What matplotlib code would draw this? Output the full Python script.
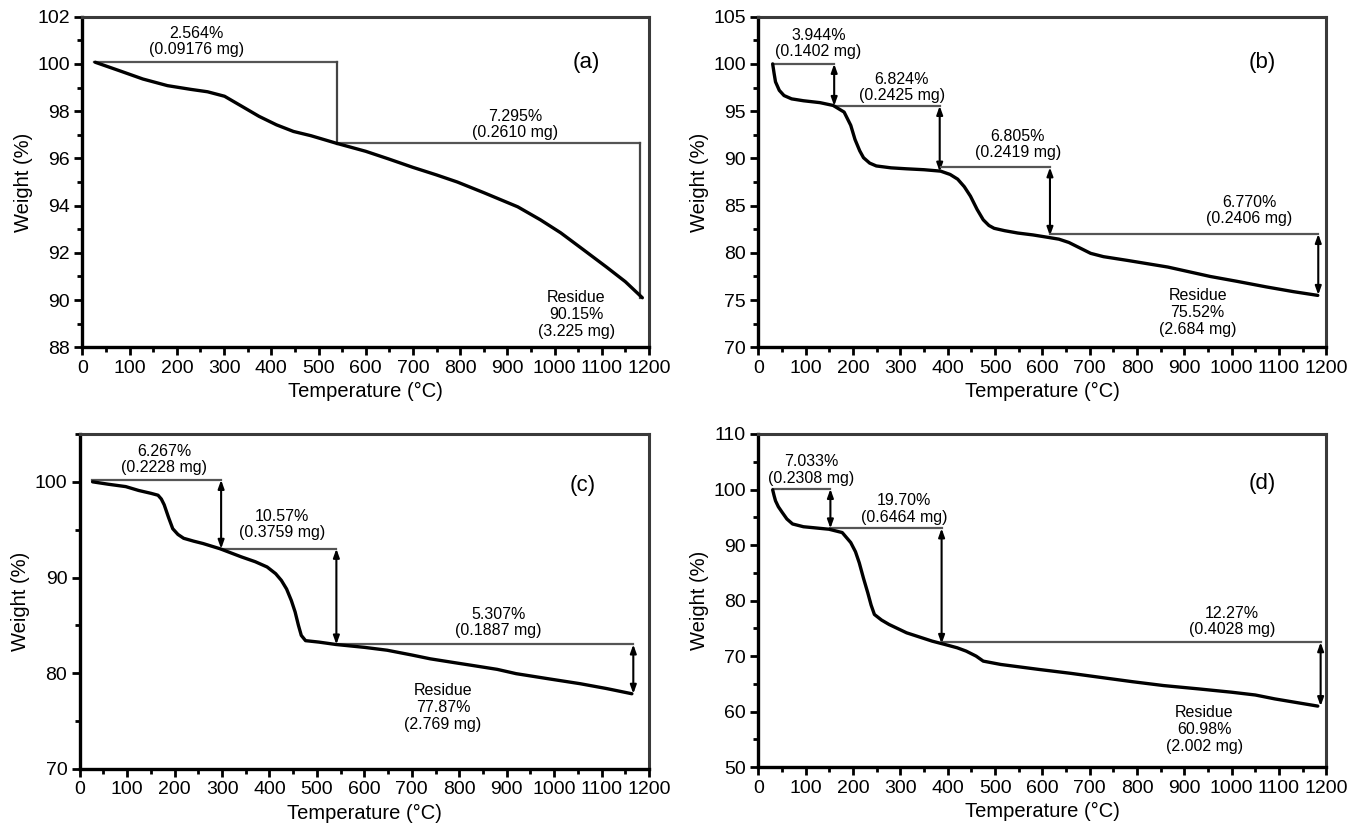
import matplotlib
matplotlib.use('Agg')
import matplotlib.pyplot as plt
from matplotlib.ticker import MultipleLocator

plt.rcParams['font.family'] = ['Liberation Sans', 'DejaVu Sans']

# ---- data (temperature in C, weight in %) ----
a_temp = [27, 80, 128, 180, 230, 265, 301, 338, 374, 411, 447, 484, 538, 600, 648, 700, 750,
          794, 850, 922, 970, 1013, 1060, 1110, 1150, 1186]
a_weight = [100.07, 99.7, 99.36, 99.08, 98.92, 98.82, 98.63, 98.2, 97.78, 97.42, 97.14, 96.96,
            96.64, 96.3, 95.98, 95.62, 95.3, 95.0, 94.55, 93.95, 93.4, 92.85, 92.15, 91.4,
            90.78, 90.1]

b_temp = [30, 33, 36, 44, 54, 70, 95, 130, 158, 181, 195, 204, 214, 222, 235, 249, 280, 312,
          350, 385, 405, 421, 435, 448, 462, 475, 487, 498, 520, 548, 580, 611, 635, 656, 680,
          702, 729, 780, 865, 910, 955, 1010, 1073, 1130, 1182]
b_weight = [100.0, 99.0, 98.1, 97.2, 96.65, 96.3, 96.1, 95.9, 95.6, 94.9, 93.5, 92.0, 90.8,
            90.07, 89.5, 89.2, 89.0, 88.9, 88.8, 88.65, 88.3, 87.8, 87.0, 86.0, 84.6, 83.5,
            82.9, 82.6, 82.35, 82.1, 81.9, 81.65, 81.45, 81.1, 80.5, 79.95, 79.6, 79.2, 78.5,
            78.0, 77.5, 77.0, 76.4, 75.9, 75.5]

c_temp = [27, 60, 97, 124, 150, 165, 172, 178, 187, 196, 207, 219, 240, 260, 296, 341, 370,
          395, 413, 425, 436, 446, 454, 461, 467, 476, 504, 540, 600, 648, 700, 739, 790, 829,
          880, 920, 990, 1055, 1110, 1164]
c_weight = [100.0, 99.75, 99.5, 99.1, 98.8, 98.6, 98.2, 97.6, 96.3, 95.1, 94.5, 94.1, 93.8,
            93.55, 93.0, 92.15, 91.65, 91.1, 90.4, 89.7, 88.8, 87.6, 86.4, 85.0, 83.95, 83.4,
            83.25, 83.0, 82.7, 82.4, 81.9, 81.5, 81.1, 80.8, 80.4, 79.95, 79.4, 78.9, 78.4, 77.85]

d_temp = [30, 33, 36, 42, 50, 60, 72, 95, 149, 177, 195, 205, 213, 222, 231, 238, 245, 260,
          276, 313, 367, 394, 420, 439, 460, 475, 512, 593, 660, 729, 790, 856, 930, 1000,
          1050, 1091, 1140, 1182]
d_weight = [99.95, 98.9, 97.97, 96.9, 95.9, 94.7, 93.8, 93.3, 92.85, 92.25, 90.45, 88.8, 86.8,
            84.0, 81.4, 79.2, 77.5, 76.5, 75.7, 74.2, 72.7, 72.1, 71.5, 70.9, 70.0, 69.1, 68.5,
            67.6, 66.9, 66.1, 65.4, 64.7, 64.1, 63.5, 63.0, 62.3, 61.6, 61.0]

# weight-loss steps: (T start, T end, weight before, weight after)
a_steps = [(25, 540, 100.1, 96.6), (540, 1180, 96.65, 90.1)]
b_steps = [(30, 160, 100.0, 95.55), (160, 383, 95.55, 88.6), (385, 616, 89.05, 81.8),
           (616, 1183, 82.0, 75.55)]
c_steps = [(25, 298, 100.2, 93.0), (298, 541, 93.0, 83.0), (541, 1167, 83.0, 77.85)]
d_steps = [(30, 152, 100.1, 93.0), (152, 387, 93.0, 72.2), (387, 1188, 72.5, 61.0)]

a_loss = ['2.564%\n(0.09176 mg)', '7.295%\n(0.2610 mg)']
b_loss = ['3.944%\n(0.1402 mg)', '6.824%\n(0.2425 mg)', '6.805%\n(0.2419 mg)',
          '6.770%\n(0.2406 mg)']
c_loss = ['6.267%\n(0.2228 mg)', '10.57%\n(0.3759 mg)', '5.307%\n(0.1887 mg)']
d_loss = ['7.033%\n(0.2308 mg)', '19.70%\n(0.6464 mg)', '12.27%\n(0.4028 mg)']

residues = ['Residue\n90.15%\n(3.225 mg)', 'Residue\n75.52%\n(2.684 mg)',
            'Residue\n77.87%\n(2.769 mg)', 'Residue\n60.98%\n(2.002 mg)']
panel_tags = ['(a)', '(b)', '(c)', '(d)']

# label positions (data coords) for each panel
a_label_pos = [(242, 100.95), (917, 97.45)]
b_label_pos = [(127, 102.2), (303, 97.5), (548, 91.45), (1037, 84.5)]
c_label_pos = [(178, 102.35), (427, 95.55), (883, 85.3)]
d_label_pos = [(111, 103.5), (308, 96.5), (1001, 76.3)]
residue_pos = [(1046, 89.4), (928, 73.7), (766, 76.4), (942, 56.75)]
tag_pos = [(1068, 100.05), (1064, 100.2), (1060, 99.65), (1064, 101.0)]

panels = [
    dict(t=a_temp, w=a_weight, steps=a_steps, loss=a_loss, lpos=a_label_pos,
         ylim=(88, 102), major=2, minor=1, arrows=False),
    dict(t=b_temp, w=b_weight, steps=b_steps, loss=b_loss, lpos=b_label_pos,
         ylim=(70, 105), major=5, minor=2.5, arrows=True),
    dict(t=c_temp, w=c_weight, steps=c_steps, loss=c_loss, lpos=c_label_pos,
         ylim=(70, 105), major=10, minor=5, arrows=True),
    dict(t=d_temp, w=d_weight, steps=d_steps, loss=d_loss, lpos=d_label_pos,
         ylim=(50, 110), major=10, minor=5, arrows=True),
]

axes_rect = [
    [0.061, 0.583, 0.419, 0.397],
    [0.561, 0.583, 0.420, 0.397],
    [0.059, 0.077, 0.421, 0.402],
    [0.561, 0.079, 0.420, 0.400],
]

fig = plt.figure(figsize=(13.52, 8.33), dpi=100)

for i, p in enumerate(panels):
    ax = fig.add_axes(axes_rect[i])
    ax.plot(p['t'], p['w'], color='black', lw=2.4, solid_capstyle='round',
            solid_joinstyle='round', zorder=3)

    for (x0, x1, y0, y1), txt, (tx, ty) in zip(p['steps'], p['loss'], p['lpos']):
        ax.plot([x0, x1], [y0, y0], color='#555555', lw=1.6, zorder=2)
        if p['arrows']:
            ax.annotate('', xy=(x1, y1), xytext=(x1, y0),
                        arrowprops=dict(arrowstyle='<|-|>,head_length=0.5,head_width=0.18',
                                        color='black', lw=1.5, shrinkA=0, shrinkB=0),
                        zorder=2)
        else:
            ax.plot([x1, x1], [y0, y1], color='#444444', lw=1.6, zorder=2)
        ax.text(tx, ty, txt, ha='center', va='center', fontsize=11.5, linespacing=1.1)

    ax.text(*residue_pos[i], residues[i], ha='center', va='center', fontsize=11.5,
            linespacing=1.15)
    ax.text(*tag_pos[i], panel_tags[i], ha='center', va='center', fontsize=16)

    ax.set_xlim(0, 1200)
    ax.set_ylim(*p['ylim'])
    ax.xaxis.set_major_locator(MultipleLocator(100))
    ax.xaxis.set_minor_locator(MultipleLocator(50))
    ax.yaxis.set_major_locator(MultipleLocator(p['major']))
    ax.yaxis.set_minor_locator(MultipleLocator(p['minor']))
    ax.tick_params(which='major', direction='out', length=6, width=2, labelsize=14,
                   pad=3, colors='black')
    ax.tick_params(which='minor', direction='out', length=3.5, width=2, colors='black')
    for side in ['left', 'bottom']:
        ax.spines[side].set_linewidth(2.4)
        ax.spines[side].set_color('black')
    for side in ['top', 'right']:
        ax.spines[side].set_linewidth(2.2)
        ax.spines[side].set_color('#3a3a3a')

    ax.set_xlabel('Temperature (°C)', fontsize=14.5, labelpad=4)
    ax.set_ylabel('Weight (%)', fontsize=14.5, labelpad=3)

fig.savefig('out.png', dpi=100)
